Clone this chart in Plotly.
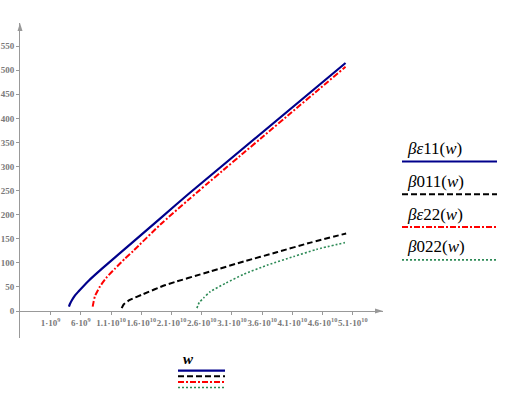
import plotly.graph_objects as go

# ---- data (w in rad/s, beta values) ----
w_be11 = [4.02e9, 4.2e9, 4.53e9, 5.0e9, 5.63e9, 7.29e9, 9.49e9, 1.17e10, 1.42e10, 1.91e10, 2.38e10, 4.98e10]
v_be11 = [9, 15, 23, 32, 41, 63, 88, 112, 139, 192, 243, 515]

w_b011 = [1.275e10, 1.31e10, 1.41e10, 1.63e10, 2.0e10, 2.74e10, 3.3e10, 3.84e10, 4.4e10, 4.99e10]
v_b011 = [6, 14, 23, 35, 54, 82, 103, 122, 142, 161]

w_be22 = [7.95e9, 8.1e9, 8.33e9, 9.16e9, 1.027e10, 1.165e10, 1.33e10, 1.468e10, 1.91e10, 2.38e10, 4.98e10]
v_be22 = [9, 19, 31, 51, 70, 88, 109, 125, 179, 231, 507]

w_b022 = [2.52e10, 2.56e10, 2.63e10, 2.74e10, 3.0e10, 3.29e10, 3.7e10, 4.12e10, 4.5e10, 4.97e10]
v_b022 = [6, 18, 27, 40, 58, 76, 96, 113, 128, 142]

x_tickvals = [1e9, 6e9, 1.1e10, 1.6e10, 2.1e10, 2.6e10, 3.1e10, 3.6e10, 4.1e10, 4.6e10, 5.1e10]
x_ticktext = ["1·10<sup>9</sup>", "6·10<sup>9</sup>", "1.1·10<sup>10</sup>", "1.6·10<sup>10</sup>",
              "2.1·10<sup>10</sup>", "2.6·10<sup>10</sup>", "3.1·10<sup>10</sup>", "3.6·10<sup>10</sup>",
              "4.1·10<sup>10</sup>", "4.6·10<sup>10</sup>", "5.1·10<sup>10</sup>"]
y_tickvals = [0, 50, 100, 150, 200, 250, 300, 350, 400, 450, 500, 550]

names = ["<i>βε</i>11(<i>w</i>)", "<i>β</i>011(<i>w</i>)", "<i>βε</i>22(<i>w</i>)", "<i>β</i>022(<i>w</i>)"]
colors = ["#00008B", "#000000", "#FF0000", "#2E8B57"]
dashes = ["solid", "6px,3px", "6px,2px,2px,2px", "2px,2px"]
widths = [2.2, 2.0, 2.0, 1.6]

X_RANGE = [-4.08e9, 5.60e10]
Y_RANGE = [-56, 598]

W, H = 516, 395
L, R, T, B = 20, 383, 23, 338  # plot area in pixels


def px(x):
    return (x - L) / (R - L)


def py(y):
    return (B - y) / (B - T)


fig = go.Figure()
series = [(w_be11, v_be11), (w_b011, v_b011), (w_be22, v_be22), (w_b022, v_b022)]
for (xs, ys), c, d, lw in zip(series, colors, dashes, widths):
    fig.add_trace(go.Scatter(x=xs, y=ys, mode="lines",
                             line=dict(color=c, dash=d, width=lw, shape="spline", smoothing=0.6),
                             showlegend=False, hoverinfo="skip"))

zero_pos = (0 - Y_RANGE[0]) / (Y_RANGE[1] - Y_RANGE[0])
axis_col = "#999999"
tick_font = dict(family="Liberation Serif, Times New Roman, serif", size=9, color="#7a7a7a",
                 weight="bold")

fig.update_layout(
    width=W, height=H,
    margin=dict(l=L, r=W - R, t=T, b=H - B, pad=0, autoexpand=False),
    paper_bgcolor="white", plot_bgcolor="white",
    xaxis=dict(range=X_RANGE, tickvals=x_tickvals, ticktext=x_ticktext, anchor="free",
               position=zero_pos, showgrid=False, zeroline=False, showline=True, automargin=False,
               linecolor=axis_col, linewidth=1, ticks="outside", ticklen=3, tickcolor=axis_col,
               tickfont=tick_font, tickangle=0, ticklabelstandoff=0),
    yaxis=dict(range=Y_RANGE, tickvals=y_tickvals, showgrid=False, zeroline=False, showline=True,
               automargin=False,
               linecolor=axis_col, linewidth=1, ticks="outside", ticklen=3, tickcolor=axis_col,
               tickfont=tick_font, ticklabelstandoff=0),
)

# arrowheads on axes (small triangles in paper coordinates)
fig.add_shape(type="path", xref="paper", yref="paper",
              path=f"M {px(17.5)},{py(31)} L {px(20)},{py(23)} L {px(22.5)},{py(31)} Z",
              fillcolor=axis_col, line=dict(color=axis_col, width=0))
zy = zero_pos
fig.add_shape(type="path", xref="paper", yref="paper",
              path=f"M {px(375)},{zy + 2.5 / (B - T)} L {px(383)},{zy} L {px(375)},{zy - 2.5 / (B - T)} Z",
              fillcolor=axis_col, line=dict(color=axis_col, width=0))

# Mathcad-style legend on the right
legend_font = dict(family="Liberation Serif, Times New Roman, serif", size=17, color="black")
for i, (nm, c, d, lw) in enumerate(zip(names, colors, dashes, widths)):
    line_y = 161.5 + i * 32.8
    fig.add_annotation(xref="paper", yref="paper", x=px(405), y=py(line_y - 13), xanchor="left",
                       yanchor="middle", text=nm, showarrow=False, font=legend_font)
    fig.add_shape(type="line", xref="paper", yref="paper", x0=px(402), x1=px(497),
                  y0=py(line_y), y1=py(line_y), line=dict(color=c, dash=d, width=lw))

# x variable legend below
fig.add_annotation(xref="paper", yref="paper", x=px(188), y=py(359), xanchor="center", yanchor="middle",
                   text="<b><i>w</i></b>", showarrow=False,
                   font=dict(family="Liberation Serif, Times New Roman, serif", size=15, color="black"))
for i, (c, d, lw) in enumerate(zip(colors, dashes, widths)):
    yy = 370.7 + i * 5.6
    fig.add_shape(type="line", xref="paper", yref="paper", x0=px(178), x1=px(225),
                  y0=py(yy), y1=py(yy), line=dict(color=c, dash=d, width=lw))

fig.write_html("out.html", config={"displayModeBar": False},
               post_script="document.body.style.margin='0';document.body.style.overflow='hidden';")
